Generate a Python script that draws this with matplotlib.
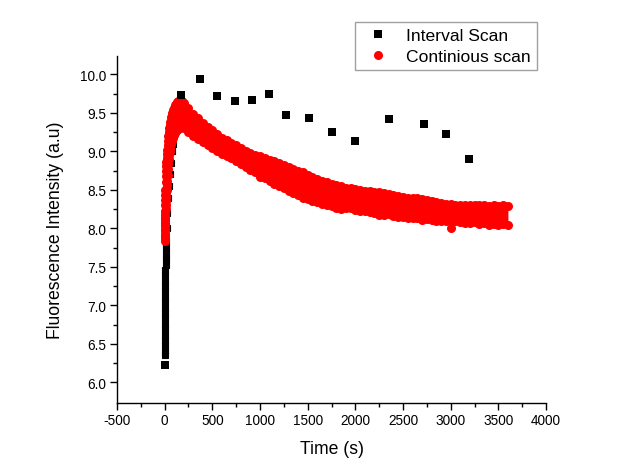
import matplotlib.pyplot as plt

plt.rcParams['font.family'] = ['Liberation Sans', 'DejaVu Sans']
plt.rcParams['axes.unicode_minus'] = False

# interval scan: dense start, then sparse points every ~180 s
interval_time = [0, 0.5, 1, 1.5, 2, 2.5, 3, 3.5, 4, 4.5, 5, 5.5, 6, 6.5, 7, 7.5,
                 8, 8.5, 9, 9.5, 10, 13, 17, 22, 28, 36, 47, 56, 65, 75, 85, 100,
                 115, 130, 145, 158, 172,
                 375, 554, 736, 915, 1094, 1276, 1514, 1756, 1995, 2356, 2717,
                 2955, 3197]
interval_val = [6.23, 6.35, 6.41, 6.48, 6.55, 6.62, 6.69, 6.76, 6.83, 6.90, 6.97,
                7.04, 7.11, 7.18, 7.25, 7.32, 7.39, 7.46, 7.53, 7.60, 7.67, 7.74,
                7.82, 8.00, 8.20, 8.40, 8.55, 8.70, 8.85, 9.00, 9.10, 9.22, 9.35,
                9.47, 9.57, 9.65, 9.73,
                9.94, 9.72, 9.65, 9.67, 9.75, 9.47, 9.43, 9.25, 9.13, 9.42, 9.35,
                9.22, 8.90]

# continuous scan: lower / upper edge of the dense band of points
cont_time = [0, 1, 2, 3, 4, 5, 6, 7, 8, 10, 12, 14, 16, 18, 20, 23, 26, 30, 35,
             40, 45, 50, 55, 60, 70, 80, 90, 100, 110, 120, 130, 140, 150, 160,
             170, 180,
             200, 250, 300, 350, 400, 450, 500, 550, 600, 650, 700, 750, 800,
             850, 900, 950, 1000, 1050, 1100, 1150, 1200, 1250, 1300, 1350,
             1400, 1450, 1500, 1550, 1600, 1650, 1700, 1750, 1800, 1850, 1900,
             1950, 2000, 2050, 2100, 2150, 2200, 2250, 2300, 2350, 2400, 2450,
             2500, 2550, 2600, 2650, 2700, 2750, 2800, 2850, 2900, 2950, 3000,
             3050, 3100, 3150, 3200, 3250, 3300, 3350, 3400, 3450, 3500, 3550,
             3600]
cont_low = [7.83, 7.88, 7.93, 7.98, 8.03, 8.07, 8.11, 8.15, 8.19, 8.25, 8.31,
            8.36, 8.41, 8.46, 8.50, 8.56, 8.62, 8.69, 8.77, 8.84, 8.90, 8.95,
            8.99, 9.03, 9.09, 9.14, 9.18, 9.21, 9.24, 9.26, 9.28, 9.29, 9.30,
            9.31, 9.32, 9.32,
            9.30, 9.25, 9.20, 9.16, 9.12, 9.08, 9.04, 9.00, 8.97, 8.94, 8.91,
            8.87, 8.84, 8.80, 8.76, 8.73, 8.67, 8.65, 8.61, 8.58, 8.55, 8.52,
            8.49, 8.46, 8.43, 8.40, 8.38, 8.36, 8.34, 8.32, 8.31, 8.29, 8.27,
            8.25, 8.26, 8.26, 8.24, 8.23, 8.22, 8.21, 8.20, 8.18, 8.17, 8.19,
            8.16, 8.15, 8.15, 8.14, 8.14, 8.13, 8.11, 8.12, 8.11, 8.10, 8.10,
            8.09, 8.01, 8.09, 8.08, 8.07, 8.07, 8.08, 8.06, 8.07, 8.05, 8.06,
            8.05, 8.06, 8.05]
cont_high = [7.90, 7.98, 8.06, 8.14, 8.22, 8.30, 8.37, 8.44, 8.50, 8.60, 8.68,
             8.75, 8.81, 8.86, 8.91, 8.97, 9.02, 9.08, 9.14, 9.20, 9.25, 9.30,
             9.34, 9.38, 9.45, 9.50, 9.54, 9.57, 9.60, 9.62, 9.64, 9.65, 9.66,
             9.66, 9.66, 9.65,
             9.63, 9.56, 9.49, 9.43, 9.37, 9.32, 9.28, 9.23, 9.18, 9.15, 9.11,
             9.08, 9.04, 9.01, 8.98, 8.95, 8.94, 8.92, 8.89, 8.88, 8.85, 8.82,
             8.80, 8.77, 8.75, 8.73, 8.69, 8.67, 8.64, 8.62, 8.60, 8.58, 8.56,
             8.55, 8.53, 8.52, 8.51, 8.50, 8.49, 8.48, 8.47, 8.47, 8.46, 8.45,
             8.43, 8.42, 8.41, 8.40, 8.39, 8.39, 8.38, 8.37, 8.36, 8.34, 8.33,
             8.32, 8.32, 8.31, 8.31, 8.30, 8.31, 8.30, 8.31, 8.30, 8.29, 8.30,
             8.29, 8.30, 8.29]

fig = plt.figure(figsize=(6.17, 4.77), dpi=100)
ax = fig.add_axes([0.1896, 0.153, 0.6954, 0.7275])

red = '#ff0000'
ax.plot(interval_time[1:36], interval_val[1:36], 's', color='black',
        markersize=5, markeredgewidth=0.8, zorder=2)
ax.plot(interval_time[:1], interval_val[:1], 's', color='black',
        markersize=5.5, markeredgewidth=0, label='Interval Scan', zorder=2)
ax.fill_between(cont_time, cont_low, cont_high, color=red, lw=0, zorder=3)
ax.plot(cont_time, cont_low, 'o', color=red, markersize=6.5,
        markeredgewidth=0, zorder=3, label='Continious scan')
ax.plot(cont_time, cont_high, 'o', color=red, markersize=6.5,
        markeredgewidth=0, zorder=3)
# the sparse squares lying above the band sit on top
ax.plot(interval_time[36:], interval_val[36:], 's', color='black',
        markersize=5.5, markeredgewidth=0, zorder=4)

ax.set_xlim(-500, 4000)
ax.set_ylim(5.73, 10.24)
ax.set_xticks(range(-500, 4001, 500))
ax.set_xticks(range(-250, 4000, 500), minor=True)
ax.set_yticks([6.0 + 0.5 * i for i in range(9)])
ax.set_yticks([6.25 + 0.5 * i for i in range(8)], minor=True)
ax.set_yticklabels(['%.1f' % (6.0 + 0.5 * i) for i in range(9)])

for s in ['top', 'right']:
    ax.spines[s].set_visible(False)
for s in ['left', 'bottom']:
    ax.spines[s].set_linewidth(1.0)
ax.tick_params(which='major', direction='out', length=5, width=1.0,
               labelsize=9.8, pad=2.5)
ax.tick_params(which='minor', direction='out', length=3, width=1.0)

ax.set_xlabel('Time (s)', fontsize=12.7, labelpad=9)
ax.set_ylabel('Fluorescence Intensity (a.u)', fontsize=12.7, labelpad=12)

handles, labels = ax.get_legend_handles_labels()
leg = fig.legend(handles[:2], labels[:2], loc='upper right',
                 bbox_to_anchor=(0.8703, 0.9518), borderaxespad=0,
                 fontsize=12.6, numpoints=1, handlelength=2.0,
                 handletextpad=0.6, labelspacing=0.3, borderpad=0.35,
                 fancybox=False, framealpha=1)
leg.get_frame().set_edgecolor('#a0a0a0')
leg.get_frame().set_linewidth(1.0)

plt.savefig('out.png')
